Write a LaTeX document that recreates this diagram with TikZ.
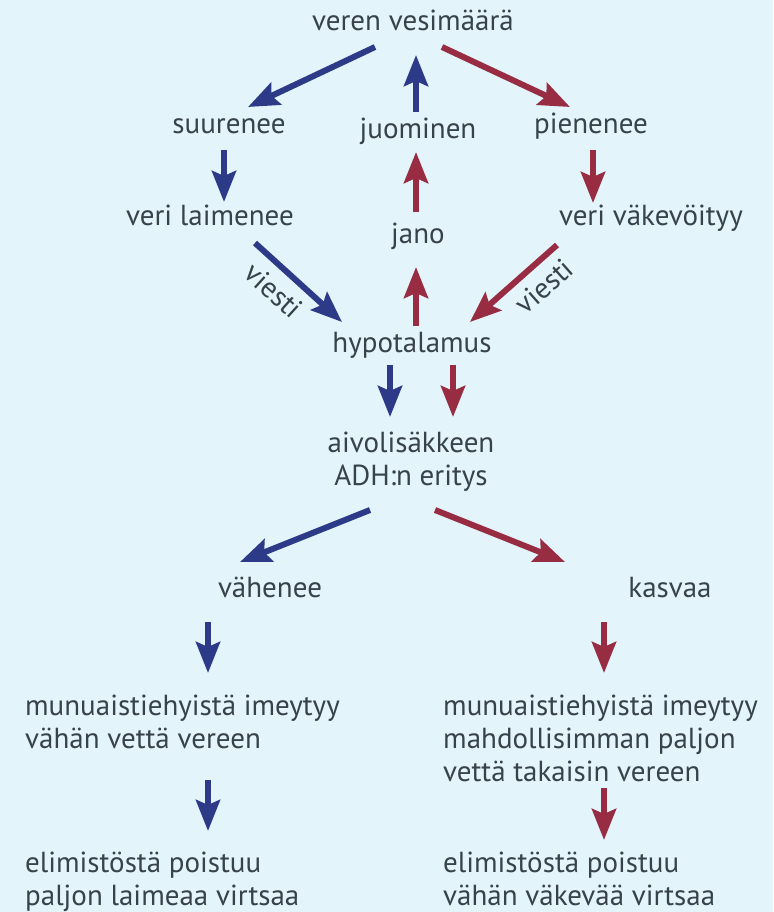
\documentclass[tikz,border=0pt]{standalone}
\usepackage{fontspec}
\setmainfont{PT Sans}
\usepackage{xcolor}
\usetikzlibrary{arrows.meta}
\definecolor{ink}{HTML}{37424A}
\definecolor{paper}{HTML}{E3F4FB}
\definecolor{down}{HTML}{2D3A87}
\definecolor{up}{HTML}{972C42}
\tikzset{
  t/.style={inner sep=0pt, anchor=base, font=\fontsize{29}{33}\selectfont, text=ink},
  tc/.style={t, align=center},
  tl/.style={t, anchor=base west, align=left},
  flowblue/.style={draw=down, line width=6pt, -{Stealth[length=31pt,width=24pt,inset=5pt]}},
  flowred/.style={draw=up, line width=6pt, -{Stealth[length=31pt,width=24pt,inset=5pt]}},
  lab/.style={font=\fontsize{29}{33}\selectfont, text=ink, sloped, below, inner sep=9pt},
}
\begin{document}
\begin{tikzpicture}[x=1pt, y=-1pt]
  \fill[paper] (0,0) rectangle (773,912);
  \useasboundingbox (0,0) rectangle (773,912);

  % upper half
  \node[t] (water) at (413,31) {veren vesimäärä};
  \node[t] (grows) at (229,134) {suurenee};
  \node[t] (drink) at (418,139) {juominen};
  \node[t] (drops) at (591,134) {pienenee};
  \node[t] (thin) at (210,225) {veri laimenee};
  \node[t] (thirst) at (418,243) {jano};
  \node[t] (thick) at (651,225) {veri väkevöityy};
  \node[t] (hypo) at (412,352) {hypotalamus};

  \draw[flowblue] ([shift={(-38,16)}]water.base) -- ([shift={(19,-27)}]grows.base);
  \draw[flowblue] ([shift={(-2,-27)}]drink.base) -- ([shift={(3,24)}]water.base);
  \draw[flowred] ([shift={(29,16)}]water.base) -- ([shift={(-21,-27)}]drops.base);
  \draw[flowblue] ([shift={(-5,16)}]grows.base) -- ([shift={(14,-23)}]thin.base);
  \draw[flowred] ([shift={(-2,-31)}]thirst.base) -- ([shift={(-2,13)}]drink.base);
  \draw[flowred] ([shift={(2,16)}]drops.base) -- ([shift={(-58,-22)}]thick.base);
  \draw[flowblue] ([shift={(45,18)}]thin.base) -- node[lab, pos=0.39] (msgl) {viesti} ([shift={(-70,-30)}]hypo.base);
  \draw[flowred] ([shift={(-94,20)}]thick.base) -- node[lab, pos=0.32] (msgr) {viesti} ([shift={(58,-30)}]hypo.base);
  \draw[flowred] ([shift={(4,-26)}]hypo.base) -- ([shift={(-2,24)}]thirst.base);

  % lower half, multi-line texts sit on their last line
  \node[tc] (adh) at (411,485) {aivolisäkkeen\\ADH:n eritys};
  \node[t] (less) at (270,597) {vähenee};
  \node[t] (more) at (670,597) {kasvaa};
  \node[tl] (kidl) at (25,748) {munuaistiehyistä imeytyy\\vähän vettä vereen};
  \node[tl] (kidr) at (443,781) {munuaistiehyistä imeytyy\\mahdollisimman paljon\\vettä takaisin vereen};
  \node[tl] (outl) at (25,905) {elimistöstä poistuu\\paljon laimeaa virtsaa};
  \node[tl] (outr) at (443,905) {elimistöstä poistuu\\vähän väkevää virtsaa};

  \draw[flowblue] ([shift={(-22,13)}]hypo.base) -- ([shift={(-21,-68)}]adh.base);
  \draw[flowred] ([shift={(41,13)}]hypo.base) -- ([shift={(42,-68)}]adh.base);
  \draw[flowblue] ([shift={(-41,25)}]adh.base) -- ([shift={(-30,-35)}]less.base);
  \draw[flowred] ([shift={(24,25)}]adh.base) -- ([shift={(-105,-35)}]more.base);
  \draw[flowblue] ([shift={(-62,25)}]less.base) -- ([shift={(183,-75)}]kidl.base west);
  \draw[flowred] ([shift={(-66,25)}]more.base) -- ([shift={(161,-108)}]kidr.base west);
  \draw[flowblue] ([shift={(183,32)}]kidl.base west) -- ([shift={(183,-74)}]outl.base west);
  \draw[flowred] ([shift={(161,7)}]kidr.base west) -- ([shift={(161,-65)}]outr.base west);
\end{tikzpicture}
\end{document}
